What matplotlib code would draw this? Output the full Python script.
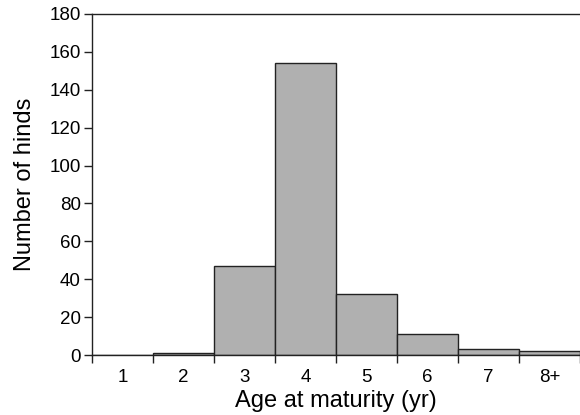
import matplotlib
matplotlib.use("Agg")
import matplotlib.pyplot as plt
import numpy as np

categories = ["1", "2", "3", "4", "5", "6", "7", "8+"]
counts = [0, 1, 47, 154, 32, 11, 3, 2]
yticks = [0, 20, 40, 60, 80, 100, 120, 140, 160, 180]

plt.rcParams['font.family'] = ['Liberation Sans', 'DejaVu Sans']

fig = plt.figure(figsize=(5.8, 4.15), dpi=100)
ax = fig.add_axes([92/580, 1-355/415, 1-92/580, (355-14)/415])

x = np.arange(1, len(categories)+1)
ax.bar(x, counts, width=1.0, color='#b0b0b0', edgecolor='#222222', linewidth=1.0)

ax.set_xlim(0.5, 8.5)
ax.set_ylim(0, 180)
ax.set_yticks(yticks)
ax.set_yticklabels([str(v) for v in yticks], fontsize=13.5)

ax.set_xticks(x)
ax.set_xticklabels(categories, fontsize=13.5)
ax.tick_params(axis='x', which='major', length=0, pad=10)
ax.set_xticks(np.arange(0.5, 9.0, 1.0), minor=True)
ax.tick_params(axis='x', which='minor', length=6, width=1, color='#222222', direction='out')
ax.tick_params(axis='y', length=6, width=1, color='#222222', direction='out', pad=2)

for s in ['left', 'bottom', 'top']:
    ax.spines[s].set_color('#222222')
    ax.spines[s].set_linewidth(1.0)
ax.spines['right'].set_visible(False)

ax.set_xlabel("Age at maturity (yr)", fontsize=17, labelpad=3)
ax.set_ylabel("Number of hinds", fontsize=17, labelpad=10)

fig.savefig("out.png", dpi=100)
